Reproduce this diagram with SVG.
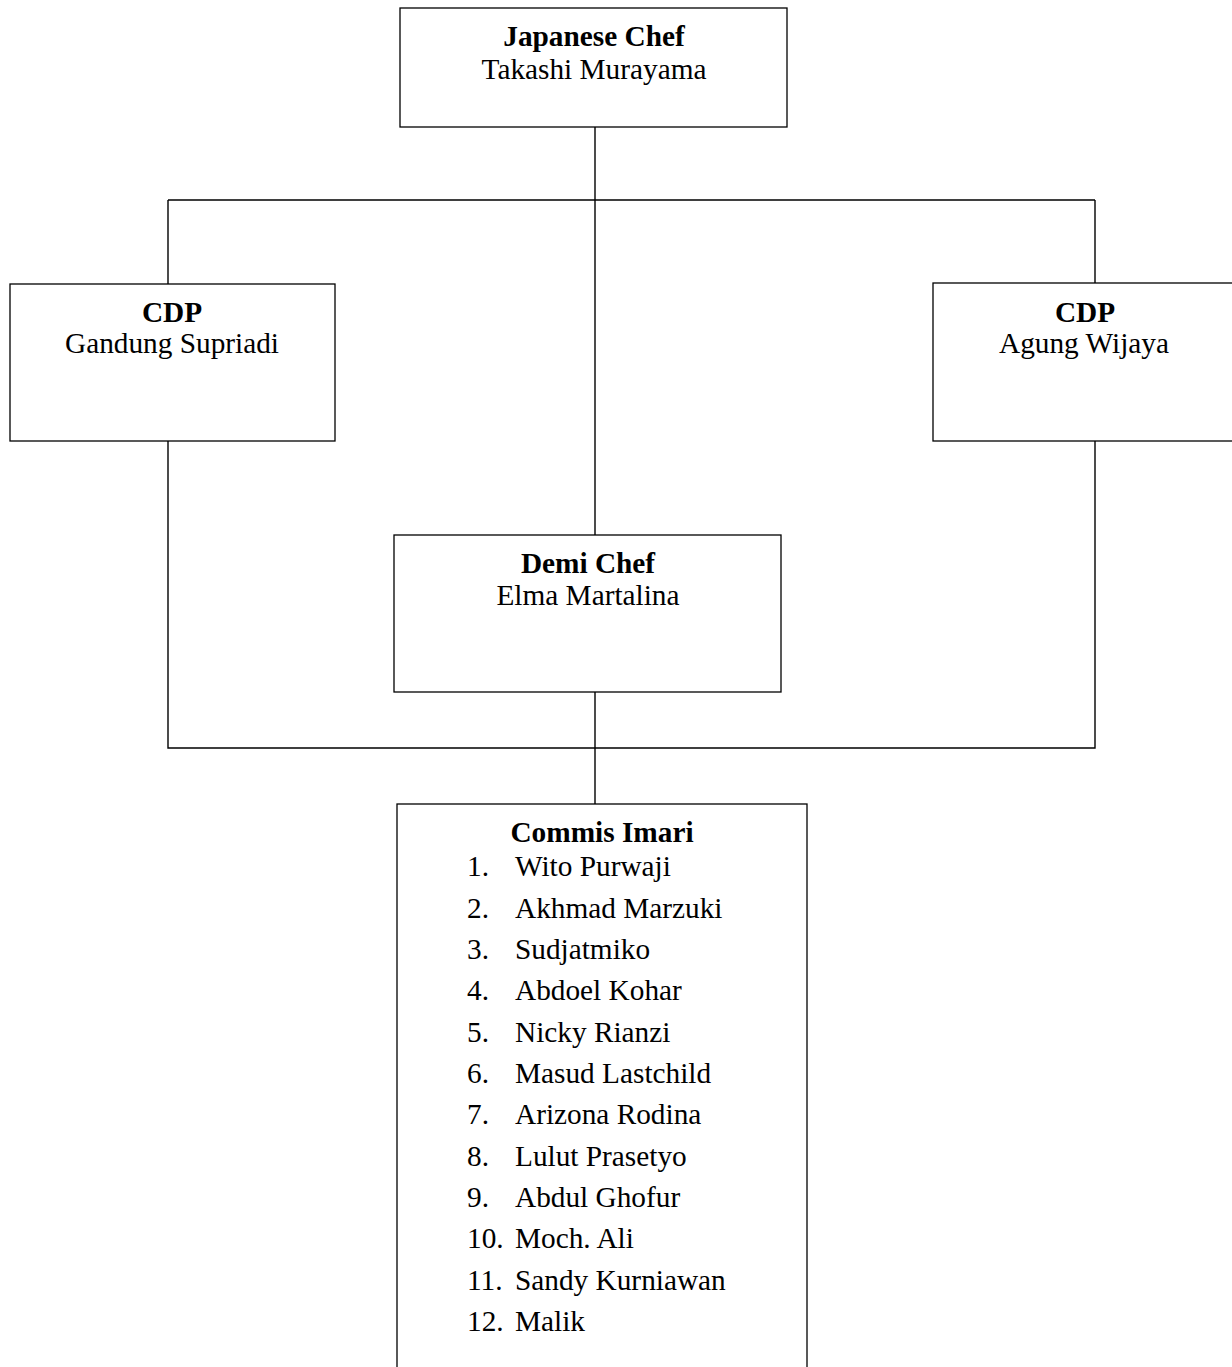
<svg xmlns="http://www.w3.org/2000/svg" width="1232" height="1367" viewBox="0 0 1232 1367">
<style>
.box{fill:#fff;stroke:#000;stroke-width:1.3}
.ln{stroke:#000;stroke-width:1.4;fill:none}
text{font-family:"Liberation Serif","Times New Roman",serif;font-size:29.3px;fill:#000}
.t{font-weight:bold;text-anchor:middle}
.n{text-anchor:middle}
</style>
<rect width="1232" height="1367" fill="#fff"/>
<g id="connectors">
<path class="ln" d="M595 127V535M168 200H1095M168 200V284M1095 200V283M168 441V748H1095V441M595 692V804"/>
</g>
<g id="japanese-chef">
<rect class="box" x="400" y="8" width="387" height="119"/>
<text class="t" x="594" y="46">Japanese Chef</text>
<text class="n" x="594" y="79">Takashi Murayama</text>
</g>
<g id="cdp-gandung">
<rect class="box" x="10" y="284" width="325" height="157"/>
<text class="t" x="172" y="322">CDP</text>
<text class="n" x="172" y="353">Gandung Supriadi</text>
</g>
<g id="cdp-agung">
<rect class="box" x="933" y="283" width="310" height="158"/>
<text class="t" x="1085" y="322">CDP</text>
<text class="n" x="1084" y="353">Agung Wijaya</text>
</g>
<g id="demi-chef">
<rect class="box" x="394" y="535" width="387" height="157"/>
<text class="t" x="588" y="573">Demi Chef</text>
<text class="n" x="588" y="605">Elma Martalina</text>
</g>
<g id="commis-imari">
<rect class="box" x="397" y="804" width="410" height="600"/>
<text class="t" x="602" y="842">Commis Imari</text>
<g>
<text x="467" y="876">1.</text><text x="515" y="876">Wito Purwaji</text>
<text x="467" y="918">2.</text><text x="515" y="918">Akhmad Marzuki</text>
<text x="467" y="959">3.</text><text x="515" y="959">Sudjatmiko</text>
<text x="467" y="1000">4.</text><text x="515" y="1000">Abdoel Kohar</text>
<text x="467" y="1042">5.</text><text x="515" y="1042">Nicky Rianzi</text>
<text x="467" y="1083">6.</text><text x="515" y="1083">Masud Lastchild</text>
<text x="467" y="1124">7.</text><text x="515" y="1124">Arizona Rodina</text>
<text x="467" y="1166">8.</text><text x="515" y="1166">Lulut Prasetyo</text>
<text x="467" y="1207">9.</text><text x="515" y="1207">Abdul Ghofur</text>
<text x="467" y="1248">10.</text><text x="515" y="1248">Moch. Ali</text>
<text x="467" y="1290">11.</text><text x="515" y="1290">Sandy Kurniawan</text>
<text x="467" y="1331">12.</text><text x="515" y="1331">Malik</text>
</g>
</g>
</svg>
